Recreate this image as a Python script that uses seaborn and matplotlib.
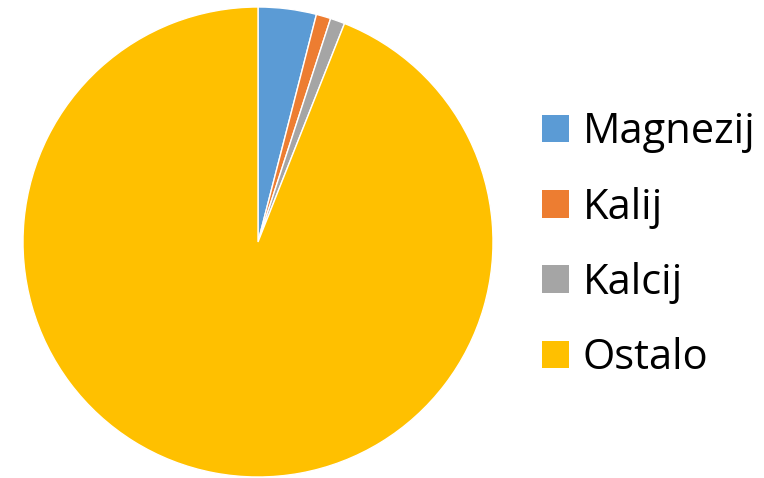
import matplotlib
matplotlib.use("Agg")
import matplotlib.pyplot as plt
import matplotlib.patches as mpatches
import seaborn as sns

# podaci
labels = ["Magnezij", "Kalij", "Kalcij", "Ostalo"]
values = [4.0, 1.0, 1.0, 94.0]
colors = ["#5B9BD5", "#ED7D31", "#A5A5A5", "#FFC000"]

sns.set_theme(style="white")
plt.rcParams['font.family'] = ['Open Sans', 'DejaVu Sans']

fig = plt.figure(figsize=(7.64, 4.78), dpi=100)
ax = fig.add_axes([23 / 764, 1 / 478, 470 / 764, 470 / 478])

ax.pie(values, colors=colors, startangle=90, counterclock=False,
       wedgeprops={'edgecolor': 'white', 'linewidth': 1})
ax.set_xlim(-1, 1)
ax.set_ylim(-1, 1)
ax.set_aspect('equal')
ax.axis('off')

handles = [mpatches.Patch(facecolor=c, edgecolor='none', label=l)
           for c, l in zip(colors, labels)]
leg = fig.legend(handles=handles, loc='center left', bbox_to_anchor=(0.709, 0.487),
                 frameon=False, fontsize=30, handlelength=0.65, handleheight=0.65,
                 handletextpad=0.34, labelspacing=0.8, borderpad=0, borderaxespad=0)
for t in leg.get_texts():
    t.set_color('black')

fig.savefig('out.png', dpi=100)
